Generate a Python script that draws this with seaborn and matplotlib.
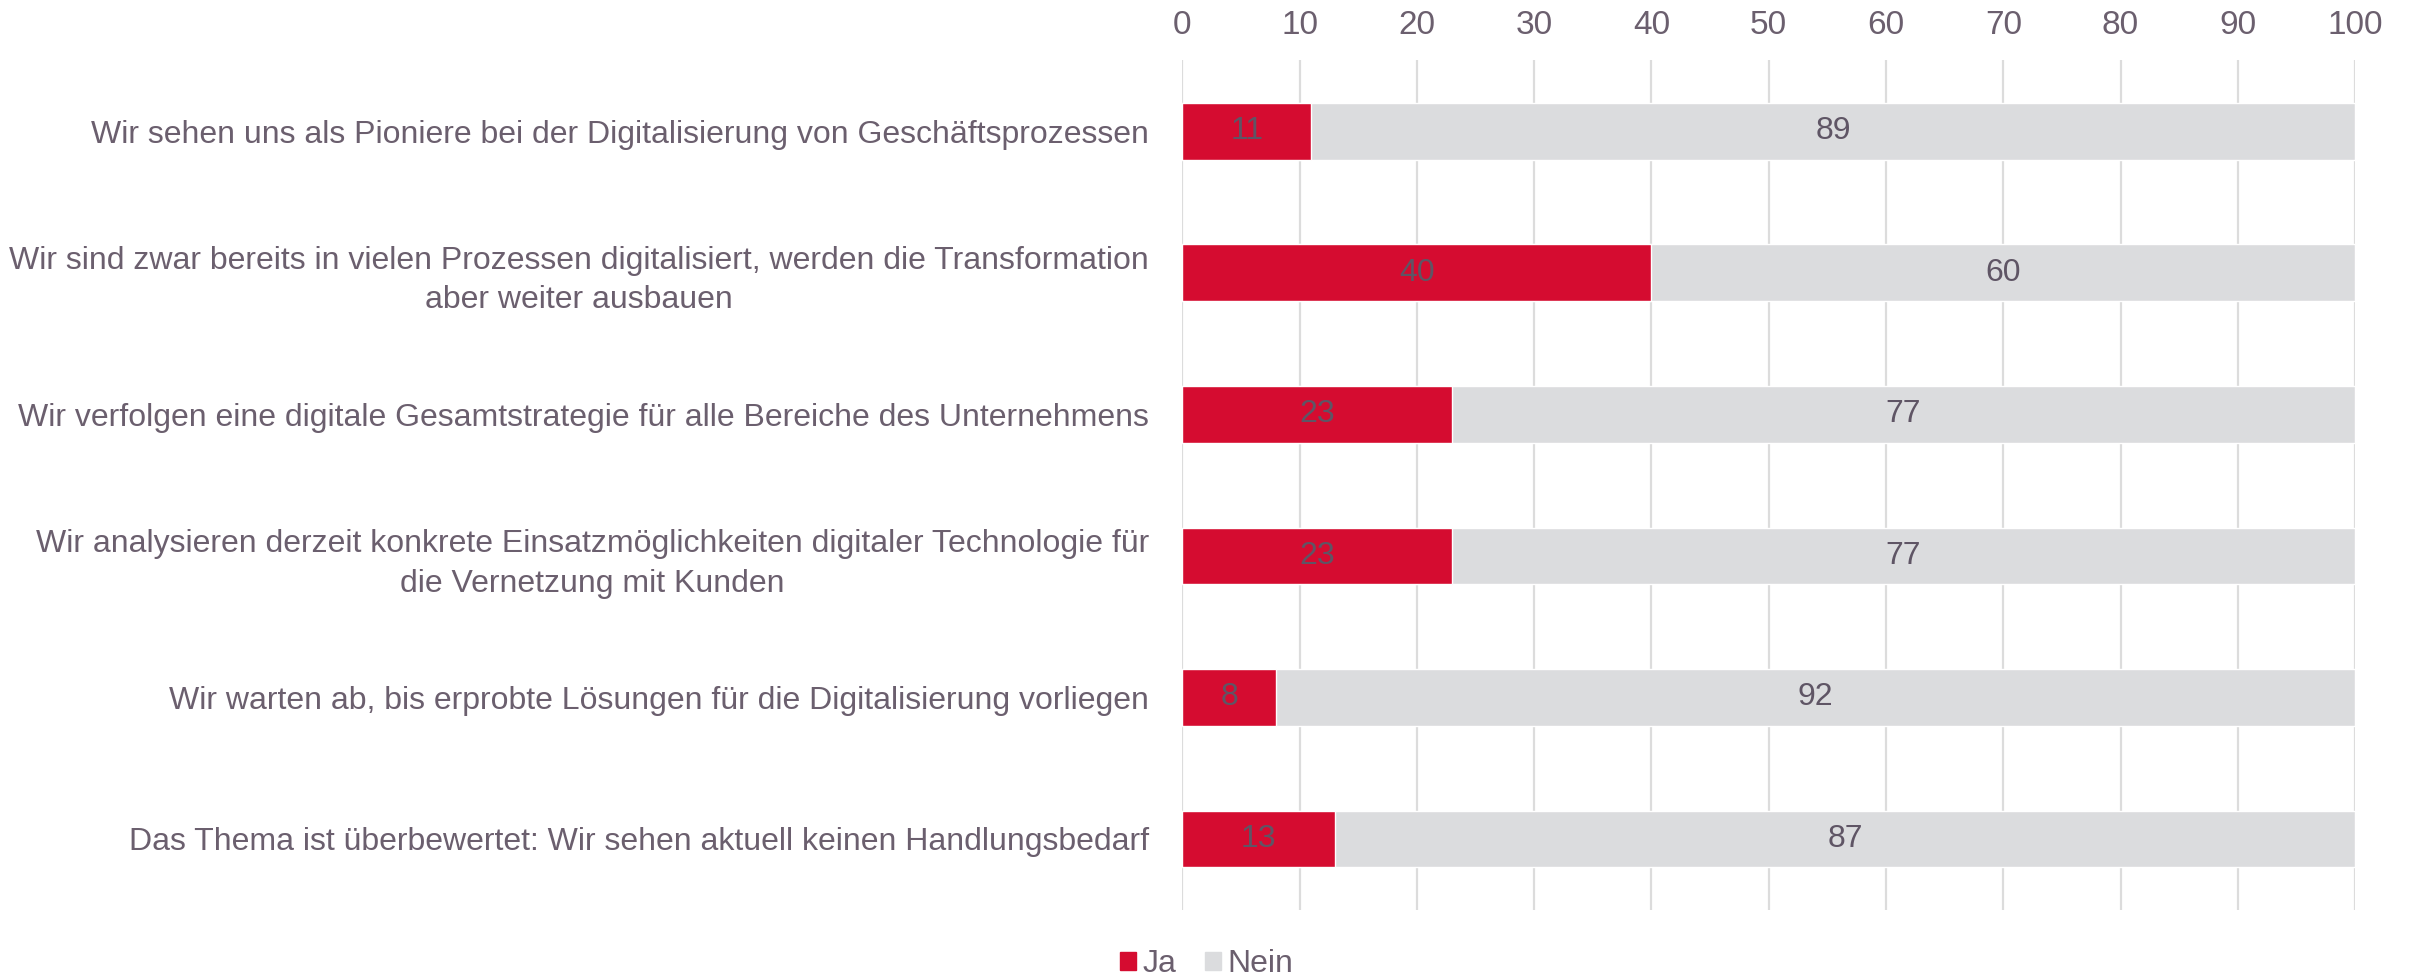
import matplotlib
matplotlib.use('Agg')
import matplotlib.pyplot as plt
import seaborn as sns
import pandas as pd
from matplotlib.patches import Patch

# answers (percent)
statements = [
    'Wir sehen uns als Pioniere bei der Digitalisierung von Geschäftsprozessen',
    'Wir sind zwar bereits in vielen Prozessen digitalisiert, werden die Transformation\naber weiter ausbauen',
    'Wir verfolgen eine digitale Gesamtstrategie für alle Bereiche des Unternehmens',
    'Wir analysieren derzeit konkrete Einsatzmöglichkeiten digitaler Technologie für\ndie Vernetzung mit Kunden',
    'Wir warten ab, bis erprobte Lösungen für die Digitalisierung vorliegen',
    'Das Thema ist überbewertet: Wir sehen aktuell keinen Handlungsbedarf',
]
ja = [11, 40, 23, 23, 8, 13]
nein = [89, 60, 77, 77, 92, 87]

RED = '#D50C30'
GRAY = '#DBDCDE'
TXT = '#6B5F6E'

df = pd.DataFrame({'statement': statements, 'Ja': ja, 'Nein': nein})
df['total'] = df['Ja'] + df['Nein']

sns.set_style('white')
plt.rcParams['font.family'] = ['Liberation Sans', 'DejaVu Sans']

fig = plt.figure(figsize=(24.13, 9.75), dpi=100)
ax = fig.add_axes([0.49, 0.067, 0.486, 0.871])

# full bar (Nein) underneath, Ja drawn on top from 0
sns.barplot(data=df, x='total', y='statement', color=GRAY, width=0.4,
            saturation=1, ax=ax, zorder=2)
sns.barplot(data=df, x='Ja', y='statement', color=RED, width=0.4,
            saturation=1, ax=ax, zorder=3)

for i, (j, n) in enumerate(zip(ja, nein)):
    ax.text(j / 2, i, str(j), ha='center', va='center', fontsize=23,
            color='#5F5565', zorder=4)
    ax.text(j + n / 2, i, str(n), ha='center', va='center', fontsize=23,
            color='#5F5565', zorder=4)

ax.set_xlim(0, 100)
ax.set_ylim(5.5, -0.5)
ax.set_xticks(range(0, 101, 10))
ax.xaxis.tick_top()
ax.tick_params(axis='x', length=0, pad=14, labelsize=24, labelcolor=TXT)
ax.tick_params(axis='y', length=0, pad=24, labelsize=23, labelcolor=TXT)
for lab in ax.get_yticklabels():
    lab.set_multialignment('center')
    lab.set_linespacing(1.4)
ax.set_xlabel('')
ax.set_ylabel('')
ax.grid(axis='x', color='#DCDCDC', linewidth=1.6, zorder=0)
for s in ax.spines.values():
    s.set_visible(False)

handles = [Patch(color=RED, label='Ja'), Patch(color=GRAY, label='Nein')]
fig.legend(handles=handles, loc='lower center', bbox_to_anchor=(0.5, -0.034),
           ncol=2, frameon=False, fontsize=23, labelcolor=TXT,
           handlelength=0.5, handleheight=0.5, handletextpad=0.2,
           columnspacing=0.9)

fig.savefig('out.png', dpi=100)
